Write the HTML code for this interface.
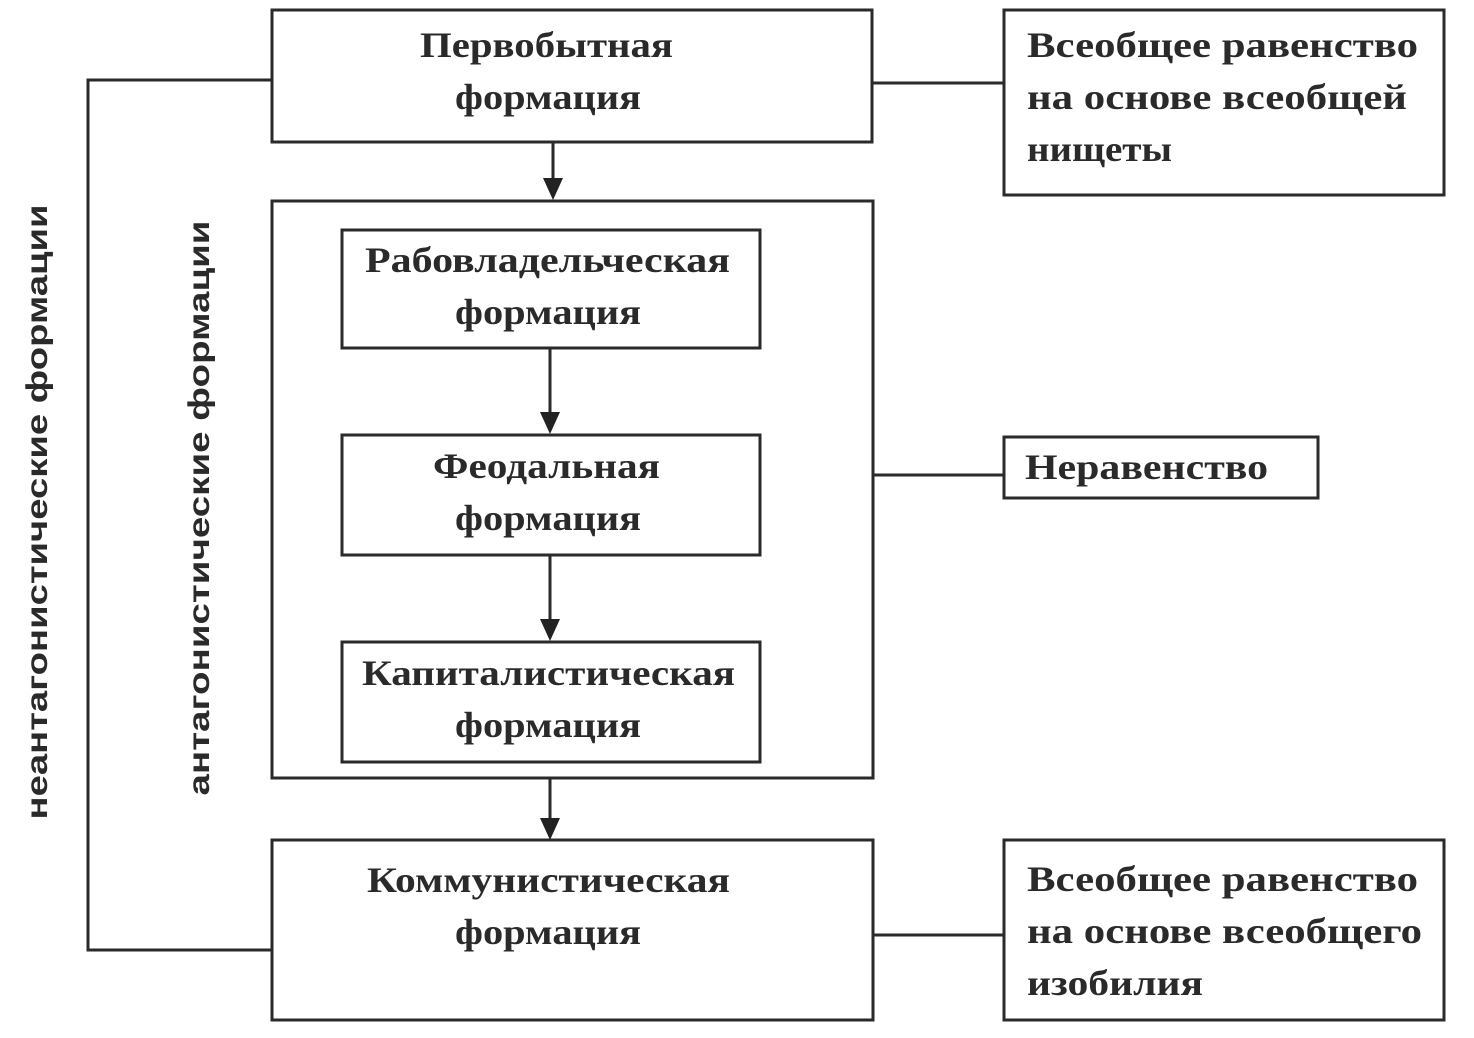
<!DOCTYPE html>
<html><head><meta charset="utf-8"><style>
html,body{margin:0;padding:0;background:#fff;}
svg{display:block;}
.t{font-family:"Liberation Serif",serif;font-weight:bold;font-size:36px;fill:#2a2a2a;}
.s{font-family:"Liberation Sans",sans-serif;font-weight:bold;font-size:30px;fill:#2a2a2a;}
</style></head><body>
<svg width="1474" height="1038" viewBox="0 0 1474 1038" xmlns="http://www.w3.org/2000/svg">
<g fill="none" stroke="#2a2a2a" stroke-width="3">
<rect x="272" y="10" width="600" height="132"/>
<rect x="1004" y="10" width="440" height="185"/>
<rect x="272" y="201" width="601" height="577"/>
<rect x="342" y="230" width="418" height="118"/>
<rect x="342" y="435" width="418" height="120"/>
<rect x="342" y="642" width="418" height="120"/>
<rect x="1004" y="437" width="314" height="61"/>
<rect x="272" y="840" width="601" height="180"/>
<rect x="1004" y="840" width="440" height="180"/>
<path d="M872 83H1004M873 475H1004M873 935H1004M272 80H88V950H272"/>
<path d="M553 142V180M550 348V414M550 555V621M550 778V820"/>
</g>
<g fill="#222">
<path d="M543 178L563 178L553 200z"/>
<path d="M540 412L560 412L550 434z"/>
<path d="M540 619L560 619L550 641z"/>
<path d="M540 818L560 818L550 840z"/>
</g>
<g class="t" lengthAdjust="spacingAndGlyphs">
<text x="420" y="57" textLength="253" lengthAdjust="spacingAndGlyphs">Первобытная</text><text x="455" y="109" textLength="186" lengthAdjust="spacingAndGlyphs">формация</text>
<text x="365" y="272" textLength="365" lengthAdjust="spacingAndGlyphs">Рабовладельческая</text><text x="455" y="324" textLength="186" lengthAdjust="spacingAndGlyphs">формация</text>
<text x="433" y="478" textLength="227" lengthAdjust="spacingAndGlyphs">Феодальная</text><text x="455" y="530" textLength="186" lengthAdjust="spacingAndGlyphs">формация</text>
<text x="362" y="685" textLength="373" lengthAdjust="spacingAndGlyphs">Капиталистическая</text><text x="455" y="737" textLength="186" lengthAdjust="spacingAndGlyphs">формация</text>
<text x="367" y="892" textLength="363" lengthAdjust="spacingAndGlyphs">Коммунистическая</text><text x="455" y="944" textLength="186" lengthAdjust="spacingAndGlyphs">формация</text>
<text x="1027" y="57" textLength="391" lengthAdjust="spacingAndGlyphs">Всеобщее равенство</text><text x="1027" y="109" textLength="380" lengthAdjust="spacingAndGlyphs">на основе всеобщей</text><text x="1027" y="161" textLength="145" lengthAdjust="spacingAndGlyphs">нищеты</text>
<text x="1025" y="479" textLength="243" lengthAdjust="spacingAndGlyphs">Неравенство</text>
<text x="1027" y="891" textLength="391" lengthAdjust="spacingAndGlyphs">Всеобщее равенство</text><text x="1027" y="943" textLength="395" lengthAdjust="spacingAndGlyphs">на основе всеобщего</text><text x="1027" y="995" textLength="176" lengthAdjust="spacingAndGlyphs">изобилия</text>
</g>
<text class="s" text-anchor="middle" transform="translate(47,512) rotate(-90)" textLength="615" lengthAdjust="spacingAndGlyphs">неантагонистические формации</text>
<text class="s" text-anchor="middle" transform="translate(209,508) rotate(-90)" textLength="575" lengthAdjust="spacingAndGlyphs">антагонистические формации</text>
</svg>
</body></html>
